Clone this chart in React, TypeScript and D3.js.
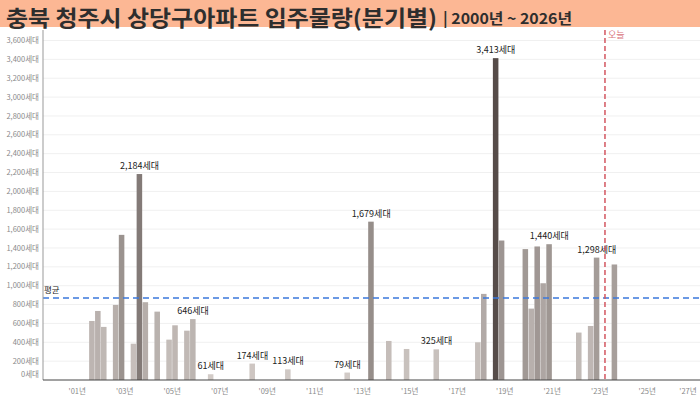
import React, { useEffect, useRef } from 'react';
import * as d3 from 'd3';

// quarter (year + quarter index 1..4) and units moving in
const quarters = [
  '2001Q3', '2001Q4', '2002Q1', '2002Q3', '2002Q4', '2003Q2', '2003Q3', '2003Q4',
  '2004Q2', '2004Q4', '2005Q1', '2005Q3', '2005Q4', '2006Q3', '2008Q2', '2009Q4',
  '2012Q2', '2013Q2', '2014Q1', '2014Q4', '2016Q1', '2017Q4', '2018Q1', '2018Q3',
  '2018Q4', '2019Q4', '2020Q1', '2020Q2', '2020Q3', '2020Q4', '2022Q1', '2022Q3',
  '2022Q4', '2023Q3',
];
const units = [
  626, 732, 563, 796, 1539, 385, 2184, 825,
  725, 428, 580, 523, 646, 61, 174, 113,
  79, 1679, 414, 329, 325, 400, 913, 3413,
  1479, 1388, 757, 1416, 1026, 1440, 503, 573,
  1298, 1225,
];
// bars that carry a value label
const labeledQuarters = [
  '2003Q3', '2005Q4', '2006Q3', '2008Q2', '2009Q4', '2012Q2', '2013Q2',
  '2016Q1', '2018Q3', '2020Q4', '2022Q4',
];
const yTicks = d3.range(0, 3601, 200);
const xTickYears = d3.range(2001, 2028, 2);
const average = 870;
const today = 2023.22;

function App() {
  const chartRef = useRef<SVGSVGElement>(null);

  useEffect(() => {
    const width = 700;
    const height = 397;
    const left = 43;
    const bottom = 380;
    const top = 30;
    const font = '"Noto Sans CJK KR", "Noto Sans", sans-serif';

    const svg = d3.select(chartRef.current);
    svg.selectAll('*').remove();

    const data = quarters.map((q, i) => ({
      t: +q.slice(0, 4) + (+q.slice(5) - 1) / 4,
      q,
      v: units[i],
    }));

    const x = d3.scaleLinear().domain([2000, 2027]).range([53.5, 694.75]);
    const y = d3.scaleLinear().domain([0, 3600]).range([bottom, 40.5]);
    const color = d3
      .scaleLinear<string>()
      .domain([0, 3413])
      .range(['#d4cdc9', '#564c49']);

    // title band
    svg.append('rect').attr('x', 0).attr('y', 0).attr('width', width).attr('height', 27).attr('fill', '#fcb794');
    svg
      .append('text')
      .attr('x', 6)
      .attr('y', 25.5)
      .attr('font-family', font)
      .attr('font-weight', 700)
      .attr('font-size', 22)
      .attr('fill', '#2e2e2e')
      .attr('textLength', 431)
      .attr('lengthAdjust', 'spacingAndGlyphs')
      .text('충북 청주시 상당구아파트 입주물량(분기별)');
    svg
      .append('text')
      .attr('x', 443)
      .attr('y', 24)
      .attr('font-family', font)
      .attr('font-weight', 700)
      .attr('font-size', 15)
      .attr('fill', '#2e2e2e')
      .attr('textLength', 129)
      .attr('lengthAdjust', 'spacingAndGlyphs')
      .text('| 2000년 ~ 2026년');

    // gridlines + y labels
    svg
      .append('g')
      .selectAll('line')
      .data(yTicks.slice(1))
      .join('line')
      .attr('x1', left)
      .attr('x2', width)
      .attr('y1', (d) => y(d))
      .attr('y2', (d) => y(d))
      .attr('stroke', '#f0f0f0');

    svg
      .append('g')
      .selectAll('text')
      .data(yTicks)
      .join('text')
      .attr('x', 39)
      .attr('y', (d) => (d === 0 ? 374 : y(d)))
      .attr('dy', '0.35em')
      .attr('text-anchor', 'end')
      .attr('font-family', font)
      .attr('font-size', 7.5)
      .attr('fill', '#8a8a8a')
      .text((d) => d3.format(',')(d) + '세대');

    // bars
    const qw = x(2000.25) - x(2000);
    svg
      .append('g')
      .selectAll('rect')
      .data(data)
      .join('rect')
      .attr('x', (d) => x(d.t))
      .attr('y', (d) => y(d.v))
      .attr('width', qw - 0.4)
      .attr('height', (d) => bottom - y(d.v))
      .attr('fill', (d) => color(d.v));

    // value labels
    svg
      .append('g')
      .selectAll('text')
      .data(data.filter((d) => labeledQuarters.includes(d.q)))
      .join('text')
      .attr('x', (d) => x(d.t) + qw / 2)
      .attr('y', (d) => y(d.v) - 5)
      .attr('text-anchor', 'middle')
      .attr('font-family', font)
      .attr('font-size', 9)
      .attr('fill', '#222')
      .text((d) => d3.format(',')(d.v) + '세대');

    // average line
    svg
      .append('line')
      .attr('x1', left)
      .attr('x2', width)
      .attr('y1', y(average))
      .attr('y2', y(average))
      .attr('stroke', '#3b78dc')
      .attr('stroke-width', 1.5)
      .attr('stroke-dasharray', '6,4');
    svg
      .append('text')
      .attr('x', 44)
      .attr('y', y(average) - 5)
      .attr('font-family', font)
      .attr('font-size', 8.5)
      .attr('fill', '#222')
      .text('평균');

    // today line
    svg
      .append('line')
      .attr('x1', x(today))
      .attr('x2', x(today))
      .attr('y1', top)
      .attr('y2', bottom)
      .attr('stroke', '#d35660')
      .attr('stroke-width', 1.5)
      .attr('stroke-dasharray', '5,3');
    svg
      .append('text')
      .attr('x', x(today) + 3)
      .attr('y', 38)
      .attr('font-family', font)
      .attr('font-size', 9)
      .attr('fill', '#d9737c')
      .text('오늘');

    // axes lines
    svg.append('line').attr('x1', left).attr('x2', left).attr('y1', top).attr('y2', bottom).attr('stroke', '#999');
    svg.append('line').attr('x1', left).attr('x2', width).attr('y1', bottom).attr('y2', bottom).attr('stroke', '#444');

    // x labels (last one kept inside the frame)
    svg
      .append('g')
      .selectAll('text')
      .data(xTickYears)
      .join('text')
      .attr('x', (d) => Math.min(x(d), 688))
      .attr('y', 394)
      .attr('text-anchor', 'middle')
      .attr('font-family', font)
      .attr('font-size', 7.5)
      .attr('fill', '#8a8a8a')
      .text((d) => "'" + String(d).slice(2) + '년');

    svg.attr('width', width).attr('height', height);
  }, []);

  return (
    <svg
      ref={chartRef}
      style={{ position: 'absolute', left: 0, top: 0, background: '#fff' }}
      width={700}
      height={397}
    />
  );
}

export default App;
